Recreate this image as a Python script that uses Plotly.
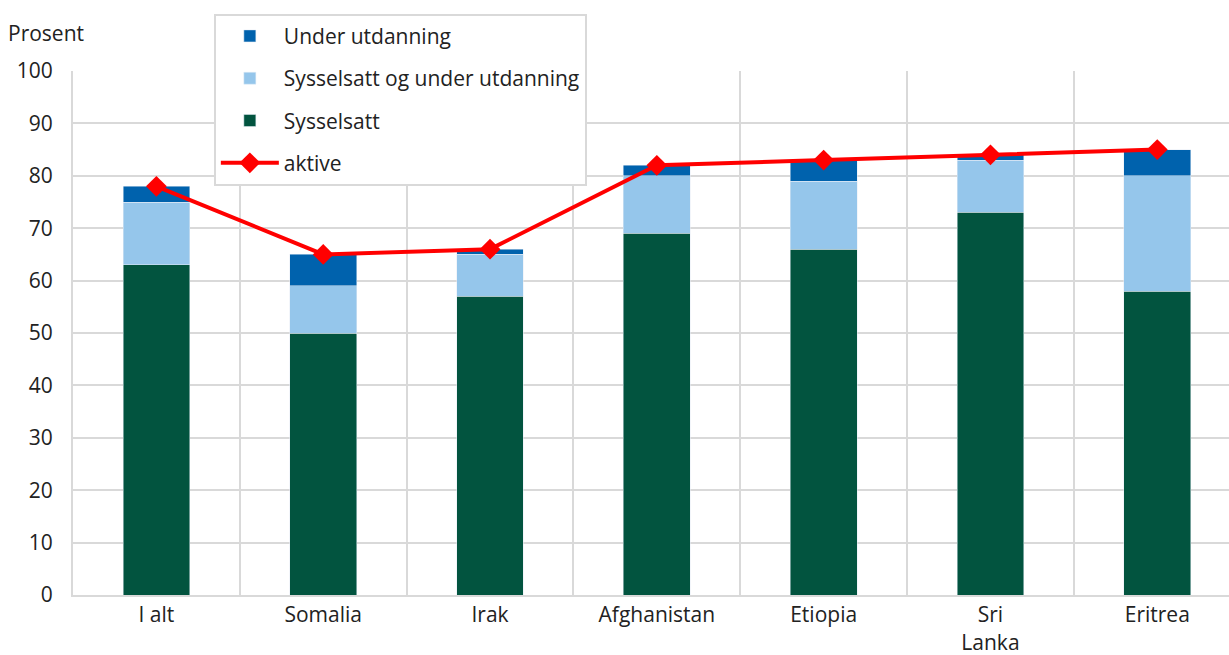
import plotly.graph_objects as go

categories = ["I alt", "Somalia", "Irak", "Afghanistan", "Etiopia", "Sri Lanka", "Eritrea"]
tick_labels = ["I alt", "Somalia", "Irak", "Afghanistan", "Etiopia", "Sri<br>Lanka", "Eritrea"]
sysselsatt = [63, 50, 57, 69, 66, 73, 58]
syss_og_utd = [12, 9, 8, 11, 13, 10, 22]
under_utd = [3, 6, 1, 2, 4, 1, 5]
aktive = [78, 65, 66, 82, 83, 84, 85]

FONT = "Open Sans"
fig = go.Figure()
fig.add_bar(x=categories, y=sysselsatt, name="Sysselsatt", marker_color="#02543f",
            width=0.4, legendrank=3, legendgroup="c")
fig.add_bar(x=categories, y=syss_og_utd, name="Sysselsatt og under utdanning",
            marker_color="#95c6eb", width=0.4, legendrank=2, legendgroup="b")
fig.add_bar(x=categories, y=under_utd, name="Under utdanning", marker_color="#0062ad",
            width=0.4, legendrank=1, legendgroup="a")
fig.add_scatter(x=categories, y=aktive, name="aktive", mode="lines+markers",
                line=dict(color="#ff0000", width=4),
                marker=dict(symbol="diamond", size=16, color="#ff0000"), legendrank=4,
                legendgroup="d")

fig.update_layout(
    barmode="stack",
    width=1229, height=655,
    margin=dict(l=73, r=0, t=71, b=60, autoexpand=False),
    plot_bgcolor="white", paper_bgcolor="white",
    font=dict(family=FONT, size=21, color="#222222"),
    showlegend=True,
    legend=dict(xref="container", yref="container", x=0.174, y=0.979,
                xanchor="left", yanchor="top", traceorder="grouped",
                bordercolor="#d9d9d9", borderwidth=2, bgcolor="white",
                font=dict(size=21), itemwidth=58, tracegroupgap=12),
    xaxis=dict(type="category", range=[-0.5, 6.43], tickson="boundaries",
               tickvals=categories, ticktext=tick_labels,
               showgrid=True, gridcolor="#d9d9d9", gridwidth=2,
               showline=True, linecolor="#d9d9d9", linewidth=2,
               ticks="", tickfont=dict(size=21), automargin=False),
    yaxis=dict(range=[0, 100], dtick=10, showgrid=True, gridcolor="#d9d9d9", gridwidth=2,
               zeroline=False, showline=True, linecolor="#d9d9d9", linewidth=2,
               ticks="", tickfont=dict(size=21), ticklabelstandoff=14, automargin=False),
    annotations=[dict(text="Prosent", xref="paper", yref="paper", x=-0.058, y=1.0725,
                      xanchor="left", yanchor="middle", showarrow=False,
                      font=dict(size=21, family=FONT))],
)

fig.write_html("out.html", config={"displayModeBar": False},
               post_script="document.body.style.margin='0';document.body.style.overflow='hidden';")
